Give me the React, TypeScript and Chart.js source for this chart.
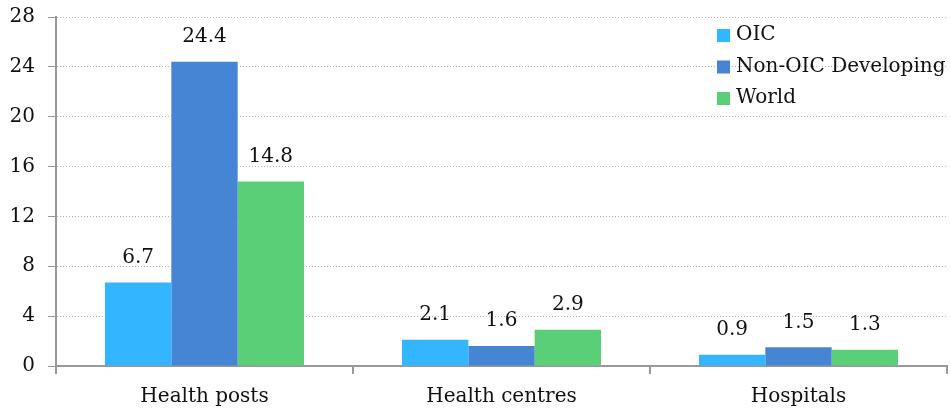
import React, { useEffect, useRef } from "react";
import { Chart, registerables } from "chart.js";

Chart.register(...registerables);

const categories = ["Health posts", "Health centres", "Hospitals"];
const oicValues = [6.7, 2.1, 0.9];
const nonOicValues = [24.4, 1.6, 1.5];
const worldValues = [14.8, 2.9, 1.3];
const seriesNames = ["OIC", "Non-OIC Developing", "World"];
const seriesColors = ["#33b5ff", "#4684d4", "#5acf78"];
const yTicks = [0, 4, 8, 12, 16, 20, 24, 28];

const FONT = "'DejaVu Serif', serif";

const labelPlugin = {
  id: "valueLabels",
  afterDatasetsDraw(chart: any) {
    const ctx = chart.ctx;
    ctx.save();
    ctx.font = `20px ${FONT}`;
    ctx.fillStyle = "#111";
    ctx.textAlign = "center";
    ctx.textBaseline = "middle";
    chart.data.datasets.forEach((ds: any, i: number) => {
      const meta = chart.getDatasetMeta(i);
      meta.data.forEach((bar: any, j: number) => {
        ctx.fillText(ds.data[j].toFixed(1), bar.x, bar.y - 25);
      });
    });
    ctx.restore();
  },
};

const legendPlugin = {
  id: "insideLegend",
  afterDraw(chart: any) {
    const ctx = chart.ctx;
    ctx.save();
    ctx.font = `20px ${FONT}`;
    ctx.textBaseline = "middle";
    ctx.textAlign = "left";
    chart.data.datasets.forEach((ds: any, i: number) => {
      const y = 35 + i * 31.5;
      ctx.fillStyle = ds.backgroundColor;
      ctx.fillRect(717, y - 6, 13, 13);
      ctx.fillStyle = "#111";
      ctx.fillText(ds.label, 736, y);
    });
    ctx.restore();
  },
};

export default function App() {
  const ref = useRef<HTMLCanvasElement>(null);
  useEffect(() => {
    document.body.style.margin = "0";
    const chart = new Chart(ref.current!, {
      type: "bar",
      data: {
        labels: categories,
        datasets: [oicValues, nonOicValues, worldValues].map((d, i) => ({
          label: seriesNames[i],
          data: d,
          backgroundColor: seriesColors[i],
          categoryPercentage: 0.67,
          barPercentage: 1.0,
        })),
      },
      options: {
        animation: false,
        responsive: false,
        layout: { padding: { top: 17, right: 3, left: 0, bottom: 0 } },
        plugins: { legend: { display: false }, tooltip: { enabled: false } },
        scales: {
          x: {
            grid: {
              offset: true,
              drawOnChartArea: false,
              tickLength: 8,
              color: "#999",
              lineWidth: 2,
            },
            border: { color: "#999", width: 2 },
            ticks: { font: { family: FONT, size: 20 }, color: "#111", padding: 11 },
            afterFit(scale: any) {
              scale.height = 46;
              scale.paddingLeft = 0;
              scale.paddingRight = 0;
            },
          },
          y: {
            min: 0,
            max: 28,
            afterBuildTicks(scale: any) {
              scale.ticks = yTicks.map((v) => ({ value: v }));
            },
            grid: {
              color: "#b4b4b4",
              tickBorderDash: [],
              tickColor: "#999",
              tickLength: 8,
              lineWidth: 1,
            } as any,
            border: { color: "#999", width: 2, dash: [1, 2] },
            ticks: { font: { family: FONT, size: 20 }, color: "#111", padding: 13 },
            afterFit(scale: any) {
              scale.width = 56;
              scale.paddingTop = 0;
              scale.paddingBottom = 0;
            },
          },
        },
      },
      plugins: [labelPlugin, legendPlugin],
    });
    return () => chart.destroy();
  }, []);
  return (
    <div style={{ position: "absolute", left: 0, top: 0, width: 950, height: 412 }}>
      <canvas ref={ref} width={950} height={412} style={{ width: 950, height: 412 }} />
    </div>
  );
}
